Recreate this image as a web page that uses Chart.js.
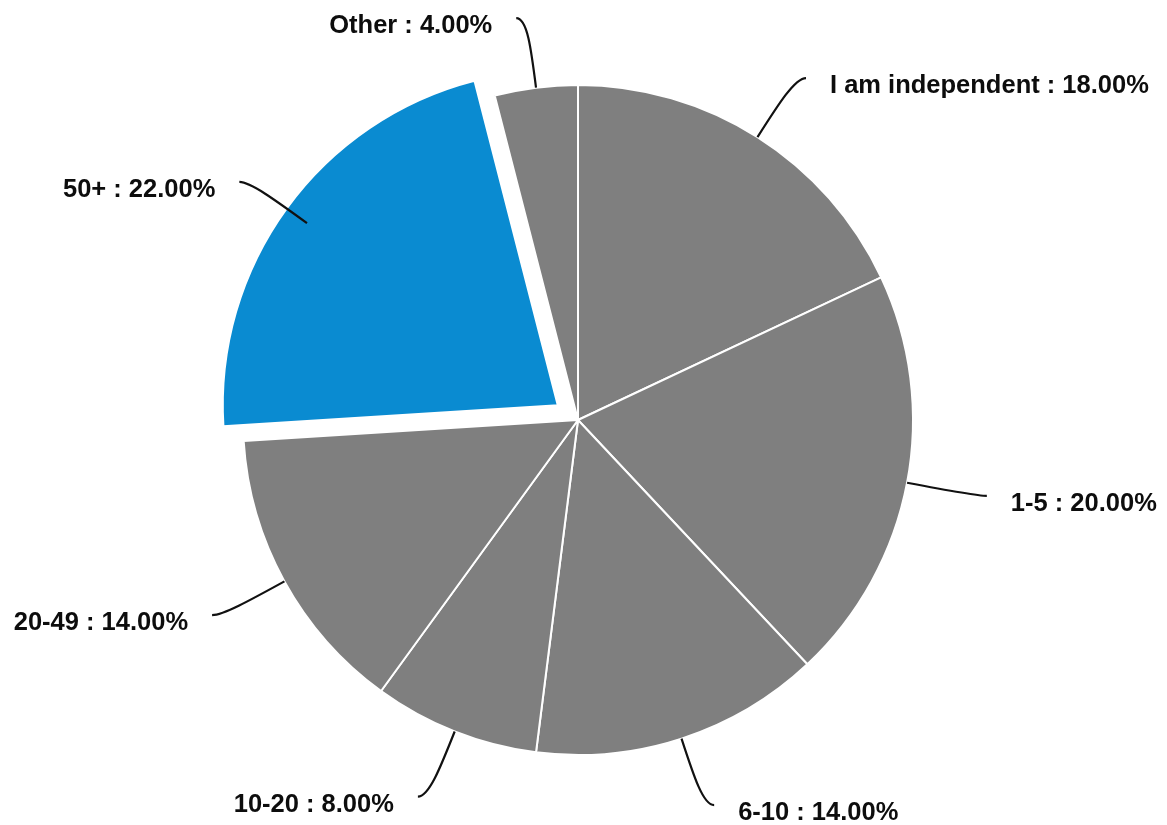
<!DOCTYPE html>
<html>
<head>
<meta charset="utf-8">
<script src="https://cdn.jsdelivr.net/npm/chart.js@4"></script>
<style>
  html, body { margin: 0; padding: 0; background: #ffffff; }
  #wrap { width: 1167px; height: 825px; }
</style>
</head>
<body>
<div id="wrap"><canvas id="pieChart" width="1167" height="825"></canvas></div>
<script>
// company size answers, percent of respondents
const categories = ['I am independent', '1-5', '6-10', '10-20', '20-49', '50+', 'Other'];
const shares = [18, 20, 14, 8, 14, 22, 4];
const sliceColors = ['#7f7f7f', '#7f7f7f', '#7f7f7f', '#7f7f7f', '#7f7f7f', '#0a8bd1', '#7f7f7f'];
const explodeBy = [0, 0, 0, 0, 0, 25, 0];

function pieCenter(chart) {
  const a = chart.chartArea;
  return { x: (a.left + a.right) / 2, y: (a.top + a.bottom) / 2 };
}

// pulls highlighted slices out from the centre along their mid angle
const explodeSlices = {
  id: 'explodeSlices',
  beforeDatasetsDraw(chart) {
    const c = pieCenter(chart);
    chart.getDatasetMeta(0).data.forEach((arc, i) => {
      const mid = (arc.startAngle + arc.endAngle) / 2;
      arc.x = c.x + Math.cos(mid) * explodeBy[i];
      arc.y = c.y + Math.sin(mid) * explodeBy[i];
    });
  }
};

// draws "name : xx.xx%" labels with curved leader lines
const leaderLabels = {
  id: 'leaderLabels',
  afterDatasetsDraw(chart) {
    const ctx = chart.ctx;
    const meta = chart.getDatasetMeta(0);
    const c = pieCenter(chart);
    ctx.save();
    ctx.font = 'bold 25.5px "Liberation Sans", Arial, sans-serif';
    ctx.textBaseline = 'middle';
    ctx.fillStyle = '#0d0d0d';
    ctx.strokeStyle = '#111111';
    ctx.lineWidth = 2.2;
    meta.data.forEach((arc, i) => {
      const mid = (arc.startAngle + arc.endAngle) / 2;
      const r = arc.outerRadius;
      const cos = Math.cos(mid), sin = Math.sin(mid);
      const right = cos >= 0;
      const dir = right ? 1 : -1;
      const x0 = c.x + cos * r, y0 = c.y + sin * r;
      const c1x = c.x + cos * (r + 40), c1y = c.y + sin * (r + 40);
      const kx = c.x + cos * (r + 70), ky = c.y + sin * (r + 70);
      const ex = kx + dir * 11, ey = ky;
      ctx.beginPath();
      ctx.moveTo(x0, y0);
      ctx.bezierCurveTo(c1x, c1y, kx, ky, ex, ey);
      ctx.stroke();
      const text = categories[i] + ' : ' + shares[i].toFixed(2) + '%';
      ctx.textAlign = right ? 'left' : 'right';
      ctx.fillText(text, ex + dir * 24, ey + 8);
    });
    ctx.restore();
  }
};

new Chart(document.getElementById('pieChart').getContext('2d'), {
  type: 'pie',
  data: {
    labels: categories,
    datasets: [{
      data: shares,
      backgroundColor: sliceColors,
      borderColor: '#ffffff',
      borderWidth: 2,
      hoverOffset: 0
    }]
  },
  options: {
    responsive: false,
    animation: false,
    radius: 335,
    layout: { padding: { left: 0, right: 11, top: 15, bottom: 0 } },
    plugins: {
      legend: { display: false },
      tooltip: { enabled: false }
    }
  },
  plugins: [explodeSlices, leaderLabels]
});
</script>
</body>
</html>
